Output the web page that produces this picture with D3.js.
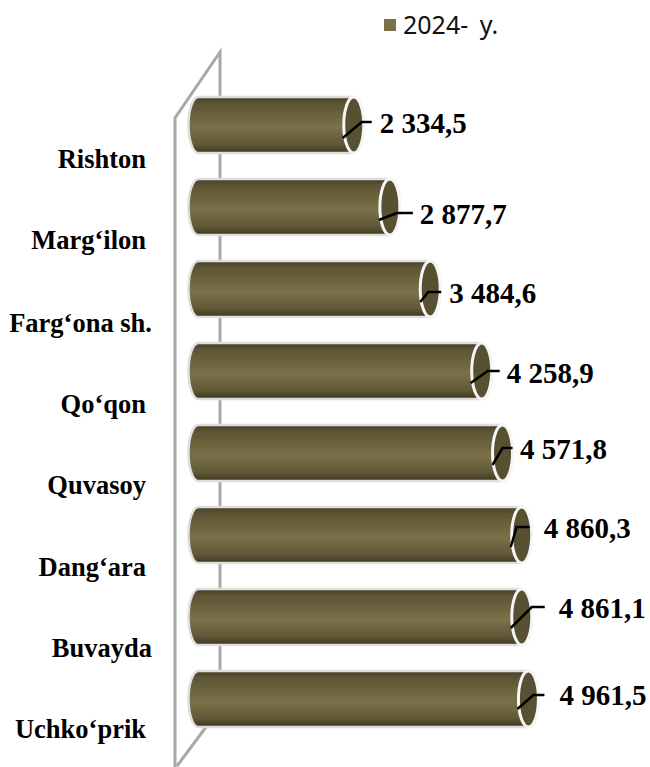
<!DOCTYPE html>
<html>
<head>
<meta charset="utf-8">
<script src="https://d3js.org/d3.v7.min.js"></script>
<style>
  html, body { margin: 0; padding: 0; background: #fff; }
  svg { display: block; }
  .cat, .val { font-family: "Liberation Serif", serif; font-weight: bold; fill: #000; }
  .cat { font-size: 26.5px; }
  .val { font-size: 29px; }
  .legend { font-family: "Noto Sans", sans-serif; font-size: 25px; word-spacing: 5px; fill: #111; }
</style>
</head>
<body>
<script>
var categories = ["Rishton", "Marg‘ilon", "Farg‘ona sh.", "Qo‘qon", "Quvasoy", "Dang‘ara", "Buvayda", "Uchko‘prik"];
var values = [2334.5, 2877.7, 3484.6, 4258.9, 4571.8, 4860.3, 4861.1, 4961.5];
var valueLabels = ["2 334,5", "2 877,7", "3 484,6", "4 258,9", "4 571,8", "4 860,3", "4 861,1", "4 961,5"];

// labels were dragged around by hand in the original, so each gets a nudge
var catNudge = [[0, 43], [0, 42], [6, 43], [0, 42], [0, 41], [0, 41], [6, 40], [0, 39]];
var valNudge = [[26, 8], [30, 17], [19, 14], [25, 12], [17.5, 6], [22, 3], [37, 1], [31, 6]];
var leaderFoot = [[-11, 13], [-11, 13], [-10, 13], [-11, 12], [-10, 12], [-11, 12], [-11, 11], [-11, 10]];
var leaderKnee = [[8, -3], [7, 6], [-2, 3], [6, 0], [0, -5], [-5, -8], [10, -10], [5, -4]];
var leaderEnd = [[18, -3], [23, 6], [11, 3], [18, 0], [10, -5], [8, -8], [23, -10], [16, -4]];

var width = 650, height = 767;
var barH = 56, capR = 10;

var svg = d3.select("body").append("svg")
    .attr("width", width)
    .attr("height", height);

var x = d3.scaleLinear().domain([0, 5000]).range([198.5, 531]);
var y = d3.scalePoint().domain(categories).range([125, 699]);

var grad = svg.append("defs").append("linearGradient")
    .attr("id", "tube")
    .attr("x1", 0).attr("y1", 0).attr("x2", 0).attr("y2", 1);
[[0, "#453e24"], [0.12, "#5d5534"], [0.55, "#7b7149"], [0.85, "#5f5736"], [1, "#3c361e"]].forEach(function(s) {
  grad.append("stop").attr("offset", s[0]).attr("stop-color", s[1]);
});

// chart walls
var wall = svg.append("g")
    .attr("fill", "none")
    .attr("stroke", "#a8a8a8")
    .attr("stroke-width", 3);
wall.append("path").attr("d", "M175,767V118L220,52V700");
wall.append("path").attr("d", "M177,766L206,727");

function tube(cy, xEnd) {
  var top = cy - barH / 2, bot = cy + barH / 2;
  var x0 = x(0);
  return "M" + x0 + "," + top +
    "L" + xEnd + "," + top +
    "A" + capR + "," + (barH / 2) + " 0 0 1 " + xEnd + "," + bot +
    "L" + x0 + "," + bot +
    "A" + capR + "," + (barH / 2) + " 0 0 1 " + x0 + "," + top + "Z";
}

var rows = svg.append("g").selectAll("g")
    .data(categories)
  .enter().append("g");

rows.append("path")
    .attr("d", function(d, i) { return tube(y(d), x(values[i])); })
    .attr("fill", "url(#tube)")
    .attr("stroke", "#dedede")
    .attr("stroke-width", 2.5);

rows.append("ellipse")
    .attr("cx", function(d, i) { return x(values[i]); })
    .attr("cy", function(d) { return y(d); })
    .attr("rx", capR)
    .attr("ry", barH / 2)
    .attr("fill", "#575031")
    .attr("stroke", "#f6f6f6")
    .attr("stroke-width", 3);

rows.append("path")
    .attr("fill", "none")
    .attr("stroke", "#000")
    .attr("stroke-width", 2.5)
    .attr("d", function(d, i) {
      var px = x(values[i]), py = y(d);
      return "M" + (px + leaderFoot[i][0]) + "," + (py + leaderFoot[i][1]) +
        "L" + (px + leaderKnee[i][0]) + "," + (py + leaderKnee[i][1]) +
        "L" + (px + leaderEnd[i][0]) + "," + (py + leaderEnd[i][1]);
    });

rows.append("text")
    .attr("class", "val")
    .attr("x", function(d, i) { return x(values[i]) + valNudge[i][0]; })
    .attr("y", function(d, i) { return y(d) + valNudge[i][1]; })
    .text(function(d, i) { return valueLabels[i]; });

rows.append("text")
    .attr("class", "cat")
    .attr("text-anchor", "end")
    .attr("x", function(d, i) { return 146 + catNudge[i][0]; })
    .attr("y", function(d, i) { return y(d) + catNudge[i][1]; })
    .text(function(d) { return d; });

// legend
svg.append("rect")
    .attr("x", 384).attr("y", 19)
    .attr("width", 12).attr("height", 12)
    .attr("fill", "#7b7149");
svg.append("text")
    .attr("class", "legend")
    .attr("x", 403).attr("y", 34)
    .text("2024- y.");
</script>
</body>
</html>
